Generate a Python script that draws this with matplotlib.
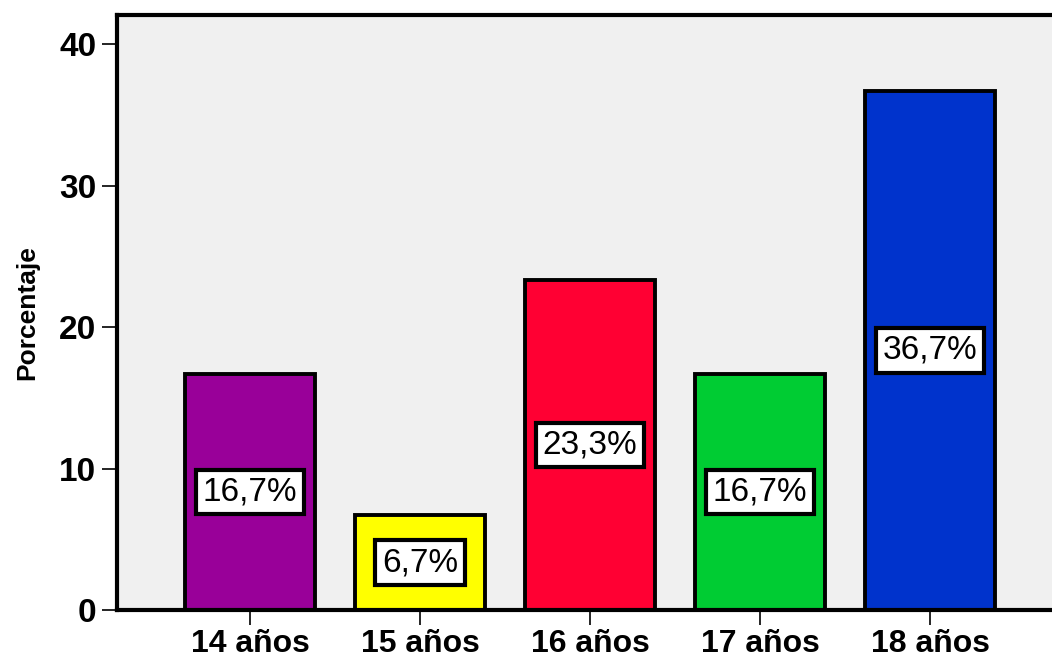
import numpy as np
import matplotlib.pyplot as plt

plt.rcParams['font.family'] = ['Liberation Sans', 'DejaVu Sans']

categorias = ['14 años', '15 años', '16 años', '17 años', '18 años']
porcentajes = [16.7, 6.7, 23.3, 16.7, 36.7]
etiquetas = ['16,7%', '6,7%', '23,3%', '16,7%', '36,7%']
colores = ['#990099', '#ffff00', '#ff0033', '#00cc33', '#0033cc']

fig = plt.figure(figsize=(10.52, 6.6), dpi=100)
ax = fig.add_axes([117/1052, 50/660, 946/1052, 595/660])
ax.set_facecolor('#f0f0f0')

x = np.arange(len(categorias))
ax.bar(x, porcentajes, width=0.765, color=colores, edgecolor='black',
       linewidth=2.8, zorder=2)

for xi, v, txt in zip(x, porcentajes, etiquetas):
    ax.text(xi, v/2, txt, ha='center', va='center', fontsize=24, zorder=3,
            bbox=dict(boxstyle='square,pad=0.2', facecolor='white',
                      edgecolor='black', linewidth=3))

ax.set_xlim(-0.782, 4.782)
ax.set_ylim(0, 42.05)
ax.set_xticks(x)
ax.set_xticklabels(categorias, fontsize=23, fontweight='bold')
ax.set_yticks([0, 10, 20, 30, 40])
ax.set_yticklabels(['0', '10', '20', '30', '40'], fontsize=24, fontweight='bold')
ax.tick_params(axis='both', length=11, width=1.2, direction='out')
ax.tick_params(axis='y', pad=4)
ax.tick_params(axis='x', pad=3)
ax.set_ylabel('Porcentaje', fontsize=19, fontweight='bold', labelpad=14)

for s in ['left', 'top', 'bottom', 'right']:
    ax.spines[s].set_linewidth(3)

fig.savefig('out.png', dpi=100)
